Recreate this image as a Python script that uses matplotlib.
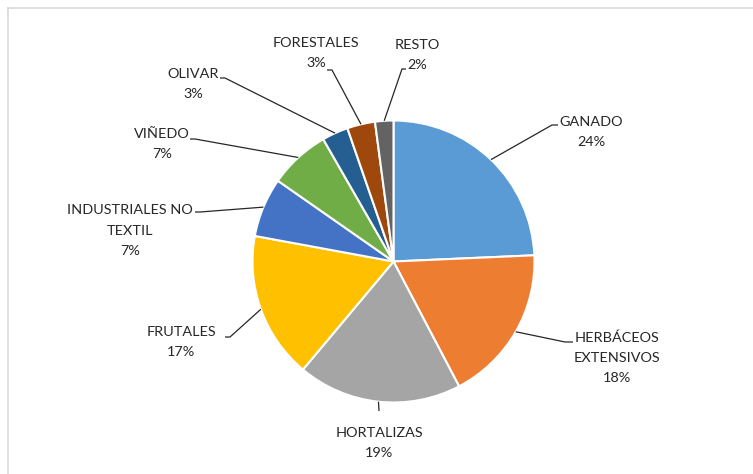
import numpy as np
import matplotlib.pyplot as plt
from matplotlib.lines import Line2D

# data (shares in %)
labels = ['GANADO', 'HERBÁCEOS\nEXTENSIVOS', 'HORTALIZAS', 'FRUTALES',
          'INDUSTRIALES NO\nTEXTIL', 'VIÑEDO', 'OLIVAR', 'FORESTALES', 'RESTO']
values = [24.3, 18.0, 18.8, 16.8, 6.8, 7.0, 3.0, 3.2, 2.1]
colors = ['#5B9BD5', '#ED7D31', '#A5A5A5', '#FFC000', '#4472C4',
          '#70AD47', '#255E91', '#9E480E', '#636363']

W, H = 753, 474

# label layout in image pixels: text centre, elbow of leader, end of leader
text_pos = [(591, 131.5), (617, 358), (379, 443), (181, 342), (130, 230.5),
            (162, 143.5), (193, 83.5), (316, 53), (417, 55)]
elbows = [(552, 125), (565, 342), (379, 411), (230, 337), (200, 212),
          (195, 139), (225, 78), (332, 70), (402, 69)]
ends = [(558, 125), (573, 342), (379, 411), (225, 337), (195, 212),
        (190, 139), (220, 78), (327, 70), (406, 69)]

plt.rcParams['font.family'] = ['Lato', 'DejaVu Sans']

fig = plt.figure(figsize=(W / 100, H / 100), dpi=100)
ax = fig.add_axes([0, 0, 1, 1])

cx, cy, r = 393.5, H - 261.5, 141
wedges, _ = ax.pie(values, colors=colors, startangle=90, counterclock=False,
                   center=(cx, cy), radius=r,
                   wedgeprops=dict(edgecolor='white', linewidth=1.5))
ax.set_xlim(0, W)
ax.set_ylim(0, H)
ax.set_aspect('equal')
ax.axis('off')

for w, lab, v, tp, el, en in zip(wedges, labels, values, text_pos, elbows, ends):
    mid = np.deg2rad((w.theta1 + w.theta2) / 2)
    x0, y0 = cx + r * np.cos(mid), cy + r * np.sin(mid)
    ax.plot([x0, el[0], en[0]], [y0, H - el[1], H - en[1]],
            color='#262626', lw=0.9, solid_capstyle='butt')
    ax.text(tp[0], H - tp[1], f'{lab}\n{round(v)}%', ha='center', va='center',
            fontsize=10.4, color='#262626', linespacing=1.8)

# light frame of the chart area
fig.add_artist(Line2D([8 / W, 8 / W], [0, 1 - 8 / H], color='#d9d9d9', lw=1.2))
fig.add_artist(Line2D([8 / W, 1], [1 - 8 / H, 1 - 8 / H], color='#d9d9d9', lw=1.2))

fig.savefig('out.png', dpi=100)
